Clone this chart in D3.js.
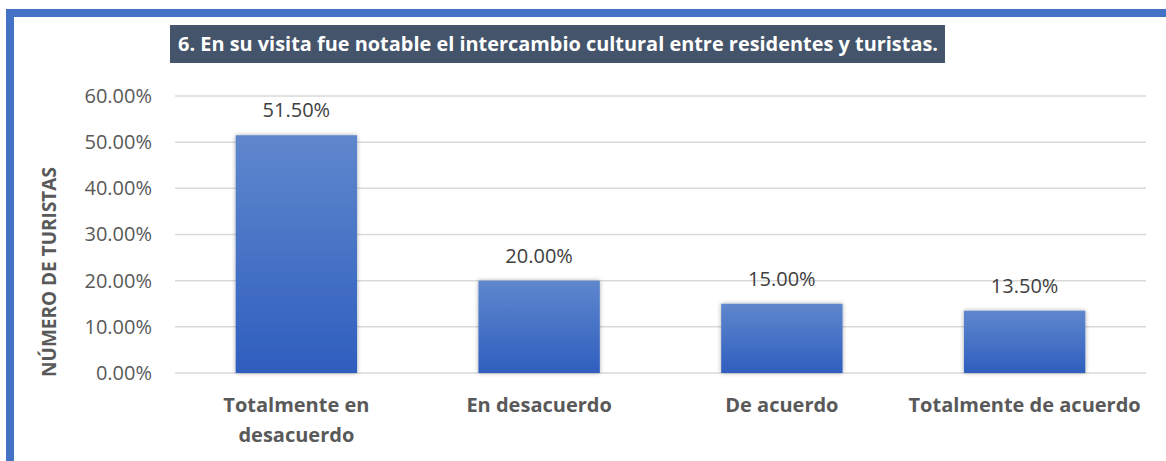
<!DOCTYPE html>
<html lang="es">
  <head>
    <meta charset="utf-8">
    <title>Intercambio cultural</title>
    <script src="https://cdn.jsdelivr.net/npm/d3@7"></script>
    <style>
      body { margin: 0; background: #fff; }
      text { font-family: "Open Sans", sans-serif; }
    </style>
  </head>
  <body>
    <script>

      var categories = [["Totalmente en", "desacuerdo"], ["En desacuerdo"], ["De acuerdo"], ["Totalmente de acuerdo"]];
      var values = [0.515, 0.20, 0.15, 0.135];
      var yTicks = [0, 0.1, 0.2, 0.3, 0.4, 0.5, 0.6];
      var title = "6. En su visita fue notable el intercambio cultural entre residentes y turistas.";
      var yTitle = "NÚMERO DE TURISTAS";

      var w = 1166, h = 461;
      var plotLeft = 175, plotRight = 1146, plotTop = 96, plotBottom = 373;

      var svg = d3.select("body").append("svg")
                  .attr("width", w)
                  .attr("height", h);

      var defs = svg.append("defs");
      var grad = defs.append("linearGradient")
                     .attr("id", "barGrad")
                     .attr("x1", 0).attr("y1", 0).attr("x2", 0).attr("y2", 1);
      grad.append("stop").attr("offset", "0%").attr("stop-color", "#5F87CD");
      grad.append("stop").attr("offset", "100%").attr("stop-color", "#2F5EBE");
      var shadow = defs.append("filter").attr("id", "shadow")
                       .attr("x", "-20%").attr("y", "-20%").attr("width", "140%").attr("height", "140%");
      shadow.append("feDropShadow")
            .attr("dx", 0).attr("dy", 0)
            .attr("stdDeviation", 2.2)
            .attr("flood-color", "#000")
            .attr("flood-opacity", 0.35);

      // outer frame
      svg.append("rect")
         .attr("x", 10).attr("y", 13)
         .attr("width", 1170).attr("height", 470)
         .attr("fill", "none")
         .attr("stroke", "#4472C4")
         .attr("stroke-width", 8);

      var x = d3.scaleBand()
                .domain(d3.range(categories.length))
                .range([plotLeft, plotRight])
                .paddingInner(0.5)
                .paddingOuter(0.25);

      var y = d3.scaleLinear()
                .domain([0, 0.6])
                .range([plotBottom, plotTop]);

      // gridlines
      svg.append("g").selectAll("line")
         .data(yTicks)
         .enter().append("line")
         .attr("x1", plotLeft).attr("x2", plotRight)
         .attr("y1", function(d) { return y(d); })
         .attr("y2", function(d) { return y(d); })
         .attr("stroke", "#d9d9d9")
         .attr("stroke-width", 1.5);

      var yAxis = d3.axisLeft(y)
                    .tickValues(yTicks)
                    .tickFormat(function(d) { return (d * 100).toFixed(2) + "%"; })
                    .tickSize(0)
                    .tickPadding(23);
      var gy = svg.append("g")
                  .attr("transform", "translate(" + plotLeft + ",0)")
                  .call(yAxis);
      gy.select(".domain").remove();
      gy.selectAll("text")
        .attr("font-family", "Open Sans, sans-serif")
        .attr("font-size", "20px")
        .attr("fill", "#595959");

      // bars
      svg.append("g").selectAll("rect")
         .data(values)
         .enter().append("rect")
         .attr("x", function(d, i) { return x(i); })
         .attr("y", function(d) { return y(d); })
         .attr("width", x.bandwidth())
         .attr("height", function(d) { return plotBottom - y(d); })
         .attr("fill", "url(#barGrad)")
         .attr("filter", "url(#shadow)");

      // value labels
      svg.append("g").selectAll("text")
         .data(values)
         .enter().append("text")
         .attr("x", function(d, i) { return x(i) + x.bandwidth() / 2; })
         .attr("y", function(d) { return y(d) - 18; })
         .attr("text-anchor", "middle")
         .attr("font-size", "20px")
         .attr("fill", "#404040")
         .text(function(d) { return (d * 100).toFixed(2) + "%"; });

      // category labels
      var cat = svg.append("g").selectAll("text")
                   .data(categories)
                   .enter().append("text")
                   .attr("text-anchor", "middle")
                   .attr("font-size", "20px")
                   .attr("font-weight", "bold")
                   .attr("fill", "#595959");
      cat.selectAll("tspan")
         .data(function(d, i) { return d.map(function(s) { return [s, i]; }); })
         .enter().append("tspan")
         .attr("x", function(d) { return x(d[1]) + x.bandwidth() / 2; })
         .attr("y", function(d, j) { return 412 + j * 30; })
         .text(function(d) { return d[0]; });

      // y title
      svg.append("text")
         .attr("transform", "translate(56,272) rotate(-90)")
         .attr("text-anchor", "middle")
         .attr("font-size", "19px")
         .attr("font-weight", "bold")
         .attr("fill", "#595959")
         .text(yTitle);

      // title box
      svg.append("rect")
         .attr("x", 170).attr("y", 25)
         .attr("width", 775).attr("height", 38)
         .attr("fill", "#44546A");
      svg.append("text")
         .attr("x", 178).attr("y", 51)
         .attr("font-size", "20px")
         .attr("font-weight", "bold")
         .attr("fill", "#fff")
         .attr("textLength", 760)
         .attr("lengthAdjust", "spacingAndGlyphs")
         .text(title);

    </script>
  </body>
</html>
